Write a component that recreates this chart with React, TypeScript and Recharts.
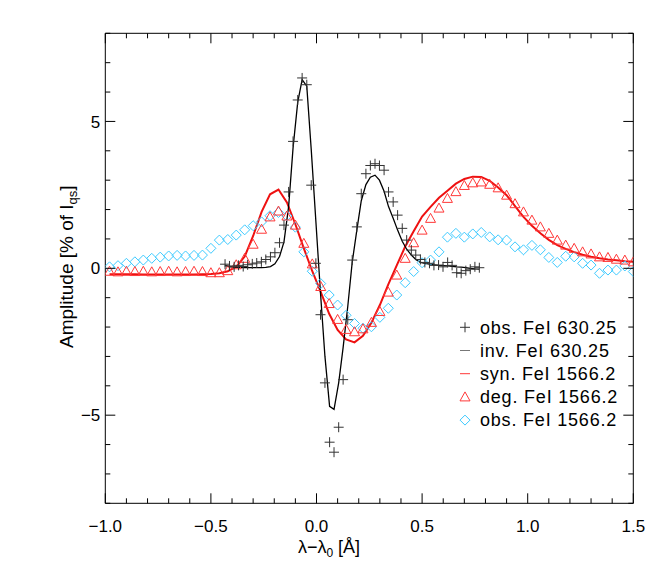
import React from "react";
import { ComposedChart, Line, Scatter, XAxis, YAxis } from "recharts";

// FeI 1566.2 wavelength grid [Å]
const wl1566 = [
  -0.98, -0.94, -0.9, -0.86, -0.82, -0.78, -0.74, -0.7, -0.66, -0.62, -0.58, -0.54, -0.5,
  -0.46, -0.42, -0.38, -0.34, -0.3, -0.26, -0.22, -0.18, -0.14, -0.1, -0.06, -0.02, 0.02,
  0.06, 0.1, 0.14, 0.18, 0.22, 0.26, 0.3, 0.34, 0.38, 0.42, 0.46, 0.5, 0.54, 0.58, 0.62,
  0.66, 0.7, 0.74, 0.78, 0.82, 0.86, 0.9, 0.94, 0.98, 1.02, 1.06, 1.1, 1.14, 1.18, 1.22,
  1.26, 1.3, 1.34, 1.38, 1.42, 1.46, 1.5,
];

// obs. FeI 1566.2 (diamonds)
const obs1566 = [
  0.05, 0.09, 0.17, 0.22, 0.28, 0.34, 0.38, 0.42, 0.44, 0.42, 0.44, 0.45, 0.68, 0.96, 0.98,
  1.13, 1.31, 1.45, 1.58, 1.79, 1.9, 1.78, 1.4, 0.56, -0.1, -0.52, -0.91, -1.25, -1.6, -1.88,
  -2.04, -1.99, -1.67, -1.36, -0.91, -0.49, -0.11, 0.19, 0.28, 0.56, 1.06, 1.19, 1.06, 1.17,
  1.22, 1.07, 0.97, 0.96, 0.73, 0.63, 0.78, 0.63, 0.37, 0.2, 0.41, 0.39, 0.17, 0.11, -0.17,
  -0.06, -0.06, 0.08, -0.11,
];

// deg. FeI 1566.2 (triangles)
const deg1566 = [
  -0.1, -0.12, -0.1, -0.11, -0.1, -0.12, -0.11, -0.1, -0.12, -0.11, -0.1, -0.11, -0.15,
  -0.15, -0.08, 0.12, 0.34, 0.82, 1.33, 1.75, 1.95, 1.78, 1.47, 0.85, 0.15, -0.62, -1.2,
  -1.74, -2.08, -2.16, -2.06, -1.84, -1.47, -0.81, -0.23, 0.34, 0.87, 1.3, 1.7, 2.05, 2.38,
  2.61, 2.82, 2.91, 2.94, 2.86, 2.74, 2.49, 2.2, 1.92, 1.64, 1.41, 1.19, 0.96, 0.79, 0.68,
  0.56, 0.49, 0.39, 0.37, 0.31, 0.28, 0.22,
];

// syn. FeI 1566.2 (red line)
const syn1566 = [
  -0.2, -0.2, -0.2, -0.2, -0.21, -0.21, -0.21, -0.21, -0.21, -0.21, -0.21, -0.2, -0.19,
  -0.17, -0.1, 0.05, 0.4, 1.1, 1.92, 2.52, 2.68, 2.24, 1.5, 0.68, -0.1, -0.8, -1.55, -2.1,
  -2.42, -2.52, -2.3, -1.85, -1.25, -0.55, 0.1, 0.74, 1.26, 1.76, 2.09, 2.4, 2.64, 2.88,
  3.04, 3.12, 3.11, 2.98, 2.75, 2.49, 2.12, 1.75, 1.45, 1.19, 0.97, 0.79, 0.66, 0.55, 0.46,
  0.39, 0.34, 0.3, 0.27, 0.24, 0.22,
];

// FeI 630.25 wavelength grid [Å]
const wl630 = [
  -0.433, -0.412, -0.39, -0.369, -0.347, -0.326, -0.304, -0.283, -0.261, -0.24, -0.218,
  -0.197, -0.175, -0.154, -0.132, -0.111, -0.089, -0.068, -0.046, -0.025, -0.003, 0.019,
  0.04, 0.062, 0.083, 0.105, 0.126, 0.148, 0.169, 0.191, 0.212, 0.234, 0.255, 0.277, 0.298,
  0.32, 0.341, 0.363, 0.384, 0.406, 0.427, 0.449, 0.47, 0.492, 0.513, 0.535, 0.556, 0.578,
  0.599, 0.621, 0.642, 0.664, 0.685, 0.707, 0.728, 0.75, 0.771,
];

// obs. FeI 630.25 (plus signs)
const obs630 = [
  0.14, 0.08, 0.05, 0.1, 0.06, 0.12, 0.15, 0.18, 0.22, 0.3, 0.39, 0.53, 0.87, 1.47, 2.6,
  4.32, 5.73, 6.48, 6.25, 2.83, 0.17, -1.58, -3.9, -5.92, -6.26, -5.41, -3.79, -1.75, 0.28,
  1.41, 2.54, 3.22, 3.5, 3.56, 3.5, 3.34, 2.6, 2.26, 1.81, 1.36, 0.96, 0.62, 0.45, 0.3, 0.2,
  0.17, 0.1, 0.11, 0.05, 0.2, 0.1, -0.15, -0.17, -0.08, -0.03, 0.05, 0.02,
];

// inv. FeI 630.25 (black line)
const inv630 = [
  0.1, 0.06, 0.04, 0.03, 0.02, 0.02, 0.02, 0.02, 0.02, 0.03, 0.06, 0.15, 0.4, 0.9, 2.1, 4.1,
  5.65, 6.42, 6.2, 4.05, 1.6, -0.85, -3.0, -4.7, -4.8, -3.9, -2.7, -1.3, 0.2, 1.3, 2.3,
  2.85, 3.1, 3.17, 3.0, 2.62, 2.1, 1.7, 1.3, 0.92, 0.65, 0.45, 0.3, 0.2, 0.17, 0.14, 0.12,
  0.1, 0.09, 0.08, 0.07, 0.05, 0.04, 0.02, 0.0, -0.02, -0.03,
];

const xTicks = [
  -1.0, -0.9, -0.8, -0.7, -0.6, -0.5, -0.4, -0.3, -0.2, -0.1, 0.0, 0.1, 0.2, 0.3, 0.4, 0.5,
  0.6, 0.7, 0.8, 0.9, 1.0, 1.1, 1.2, 1.3, 1.4, 1.5,
];
const yTicks = [-8, -7, -6, -5, -4, -3, -2, -1, 0, 1, 2, 3, 4, 5, 6, 7, 8];

const toPoints = (xs: number[], ys: number[]) => xs.map((x, i) => ({ x, y: ys[i] }));

const obs630Data = toPoints(wl630, obs630);
const inv630Data = toPoints(wl630, inv630);
const syn1566Data = toPoints(wl1566, syn1566);
const deg1566Data = toPoints(wl1566, deg1566);
const obs1566Data = toPoints(wl1566, obs1566);

const W = 650;
const H = 555;
const FONT = '"Liberation Sans", Arial, Helvetica, sans-serif';
const RED_LINE = "#ee1111";
const RED_MARK = "#ff3838";
const CYAN = "#3ccaff";
const GREY = "#333";

const fmt = (v: number, dec: number) => v.toFixed(dec).replace("-", "\u2212");

const isMajorX = (v: number) => Math.abs(v * 2 - Math.round(v * 2)) < 1e-6;
const isMajorY = (v: number) => Math.abs(v % 5) < 1e-6;

const makeTick = (side: "bottom" | "top" | "left" | "right") => (props: any) => {
  const { x, y, payload } = props;
  const v = payload.value as number;
  const major = side === "bottom" || side === "top" ? isMajorX(v) : isMajorY(v);
  const len = major ? 10 : 5;
  let line;
  if (side === "bottom") line = <line x1={x} y1={y} x2={x} y2={y - len} stroke="#000" />;
  else if (side === "top") line = <line x1={x} y1={y} x2={x} y2={y + len} stroke="#000" />;
  else if (side === "left") line = <line x1={x} y1={y} x2={x + len} y2={y} stroke="#000" />;
  else line = <line x1={x} y1={y} x2={x - len} y2={y} stroke="#000" />;
  return (
    <g>
      {line}
      {major && side === "bottom" && (
        <text x={x} y={y + 28.4} textAnchor="middle" fontSize={17} fontFamily={FONT} fill="#000">
          {fmt(v, 1)}
        </text>
      )}
      {major && side === "left" && (
        <text x={x - 5} y={y} dy="0.36em" textAnchor="end" fontSize={17} fontFamily={FONT} fill="#000">
          {fmt(v, 0)}
        </text>
      )}
    </g>
  );
};

const Plus = (p: any) => (
  <g stroke={GREY} strokeWidth={1}>
    <line x1={p.cx - 5} y1={p.cy} x2={p.cx + 5} y2={p.cy} />
    <line x1={p.cx} y1={p.cy - 5} x2={p.cx} y2={p.cy + 5} />
  </g>
);

const Triangle = (p: any) => (
  <polygon
    points={`${p.cx - 5},${p.cy + 4} ${p.cx + 5},${p.cy + 4} ${p.cx},${p.cy - 5}`}
    fill="none"
    stroke={RED_MARK}
    strokeWidth={1}
  />
);

const Diamond = (p: any) => (
  <polygon
    points={`${p.cx - 5},${p.cy} ${p.cx},${p.cy - 5} ${p.cx + 5},${p.cy} ${p.cx},${p.cy + 5}`}
    fill="none"
    stroke={CYAN}
    strokeWidth={1}
  />
);

const legendItems = [
  { name: "obs. FeI 630.25", kind: "plus" },
  { name: "inv. FeI 630.25", kind: "greyline" },
  { name: "syn. FeI 1566.2", kind: "redline" },
  { name: "deg. FeI 1566.2", kind: "triangle" },
  { name: "obs. FeI 1566.2", kind: "diamond" },
];

const LegendBox = () => {
  const sx = 457;
  const tx = 472;
  const y0 = 319.3;
  const dy = 23.2;
  return (
    <svg
      width={W}
      height={H}
      style={{ position: "absolute", left: 0, top: 0, pointerEvents: "none" }}
    >
      {legendItems.map((it, i) => {
        const cy = y0 + i * dy;
        let sym = null;
        if (it.kind === "plus") sym = <Plus cx={sx} cy={cy} />;
        if (it.kind === "greyline")
          sym = <line x1={sx - 5} y1={cy} x2={sx + 5} y2={cy} stroke="#777" strokeWidth={1} />;
        if (it.kind === "redline")
          sym = <line x1={sx - 5} y1={cy} x2={sx + 5} y2={cy} stroke={RED_MARK} strokeWidth={1} />;
        if (it.kind === "triangle") sym = <Triangle cx={sx} cy={cy} />;
        if (it.kind === "diamond") sym = <Diamond cx={sx} cy={cy} />;
        return (
          <g key={it.name}>
            {sym}
            <text
              x={tx}
              y={cy + 6.3}
              fontSize={18}
              letterSpacing={0.8}
              fontFamily={FONT}
              fill="#000"
            >
              {it.name}
            </text>
          </g>
        );
      })}
    </svg>
  );
};

const XTitle = () => (
  <text x={321} y={544.5} textAnchor="middle" fontSize={18} fontFamily={FONT} fill="#000">
    {"\u03bb\u2212\u03bb"}
    <tspan fontSize={12} dy={4}>
      0
    </tspan>
    <tspan dy={-4}>{" [\u00c5]"}</tspan>
  </text>
);

const YTitle = () => (
  <text
    x={0}
    y={0}
    transform="translate(65,258.7) rotate(-90)"
    textAnchor="middle"
    fontSize={19}
    fontFamily={FONT}
    fill="#000"
  >
    {"Amplitude [% of I"}
    <tspan fontSize={13} dy={4}>
      qs
    </tspan>
    <tspan dy={-4}>]</tspan>
  </text>
);

export default function App() {
  return (
    <div style={{ position: "relative", width: W, height: H }}>
      <ComposedChart
        width={W}
        height={H}
        margin={{ top: 15.3, right: 14.7, bottom: 9.7, left: 37.3 }}
      >
        <XAxis
          xAxisId="bottom"
          type="number"
          dataKey="x"
          domain={[-1, 1.5]}
          ticks={xTicks}
          interval={0}
          allowDataOverflow
          height={50}
          tickSize={0}
          tickMargin={0}
          tickLine={false}
          axisLine={{ stroke: "#000" }}
          tick={makeTick("bottom")}
          label={{ content: () => <XTitle /> }}
        />
        <XAxis
          xAxisId="top"
          orientation="top"
          type="number"
          dataKey="x"
          domain={[-1, 1.5]}
          ticks={xTicks}
          interval={0}
          allowDataOverflow
          height={10}
          tickSize={0}
          tickMargin={0}
          tickLine={false}
          axisLine={{ stroke: "#000" }}
          tick={makeTick("top")}
        />
        <YAxis
          yAxisId="left"
          type="number"
          dataKey="y"
          domain={[-8, 8]}
          ticks={yTicks}
          interval={0}
          allowDataOverflow
          width={60}
          tickSize={0}
          tickMargin={0}
          tickLine={false}
          axisLine={{ stroke: "#000" }}
          tick={makeTick("left")}
          label={{ content: () => <YTitle /> }}
        />
        <YAxis
          yAxisId="right"
          orientation="right"
          type="number"
          dataKey="y"
          domain={[-8, 8]}
          ticks={yTicks}
          interval={0}
          allowDataOverflow
          width={10}
          tickSize={0}
          tickMargin={0}
          tickLine={false}
          axisLine={{ stroke: "#000" }}
          tick={makeTick("right")}
        />
        <Scatter
          xAxisId="bottom"
          yAxisId="left"
          data={obs1566Data}
          dataKey="y"
          shape={Diamond}
          isAnimationActive={false}
        />
        <Scatter
          xAxisId="bottom"
          yAxisId="left"
          data={deg1566Data}
          dataKey="y"
          shape={Triangle}
          isAnimationActive={false}
        />
        <Line
          xAxisId="bottom"
          yAxisId="left"
          data={syn1566Data}
          dataKey="y"
          type="linear"
          stroke={RED_LINE}
          strokeWidth={2}
          dot={false}
          isAnimationActive={false}
        />
        <Scatter
          xAxisId="bottom"
          yAxisId="left"
          data={obs630Data}
          dataKey="y"
          shape={Plus}
          isAnimationActive={false}
        />
        <Line
          xAxisId="bottom"
          yAxisId="left"
          data={inv630Data}
          dataKey="y"
          type="linear"
          stroke="#000"
          strokeWidth={1.3}
          dot={false}
          isAnimationActive={false}
        />
      </ComposedChart>
      <LegendBox />
    </div>
  );
}
